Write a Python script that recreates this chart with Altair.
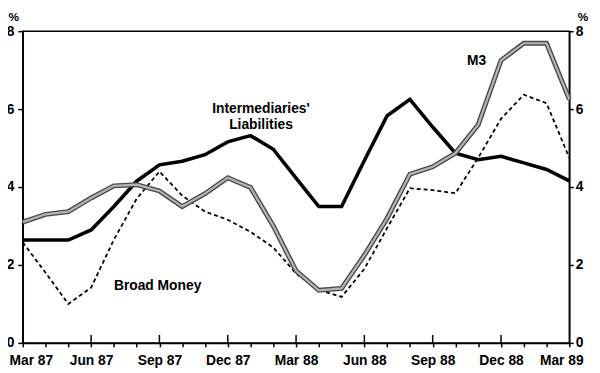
import altair as alt
import pandas as pd

months = ["Mar 87", "Apr 87", "May 87", "Jun 87", "Jul 87", "Aug 87", "Sep 87",
          "Oct 87", "Nov 87", "Dec 87", "Jan 88", "Feb 88", "Mar 88", "Apr 88",
          "May 88", "Jun 88", "Jul 88", "Aug 88", "Sep 88", "Oct 88", "Nov 88",
          "Dec 88", "Jan 89", "Feb 89", "Mar 89"]
m3 = [3.10, 3.30, 3.37, 3.72, 4.03, 4.06, 3.90, 3.50, 3.83, 4.24, 3.99, 3.00,
      1.85, 1.35, 1.40, 2.25, 3.20, 4.33, 4.52, 4.87, 5.60, 7.25, 7.69, 7.69, 6.25]
intermediaries = [2.64, 2.64, 2.64, 2.90, 3.50, 4.15, 4.57, 4.66, 4.83, 5.16,
                  5.32, 4.97, 4.23, 3.50, 3.50, 4.68, 5.83, 6.25, 5.54, 4.87,
                  4.70, 4.79, 4.62, 4.45, 4.16]
broad_money = [2.58, 1.80, 1.00, 1.42, 2.65, 3.70, 4.40, 3.78, 3.37, 3.16, 2.85,
               2.45, 1.78, 1.36, 1.18, 1.90, 2.95, 3.97, 3.92, 3.84, 4.75, 5.75,
               6.37, 6.15, 4.75]
quarter_labels = ["Mar 87", "Jun 87", "Sep 87", "Dec 87", "Mar 88", "Jun 88",
                  "Sep 88", "Dec 88", "Mar 89"]
y_ticks = [0, 2, 4, 6, 8]

# annotation text and anchor (month index, value)
ann_text = ["M3", "Intermediaries'", "Liabilities", "Broad Money"]
ann_t = [19.93, 10.46, 10.46, 5.92]
ann_v = [7.24, 5.99, 5.59, 1.45]

FONT = "Liberation Sans"
H = 316

df = pd.DataFrame({
    "t": list(range(len(months))),
    "month": months,
    "m3": m3,
    "inter": intermediaries,
    "broad": broad_money,
})
ann = pd.DataFrame({"label": ann_text, "t": ann_t, "v": ann_v})
qdf = pd.DataFrame({"t": [3 * i for i in range(1, len(quarter_labels) - 1)]})

label_arr = "[" + ",".join("'%s'" % q for q in quarter_labels) + "]"

xscale = alt.Scale(domain=[0, 24], nice=False, zero=False)
yscale = alt.Scale(domain=[0, 8], nice=False)

x_axis = alt.Axis(values=list(range(25)), tickSize=4, labelPadding=7,
                  labelExpr="datum.value % 3 == 0 ? " + label_arr + "[datum.value / 3] : ''",
                  labelFlush=True, labelFlushOffset=14, labelOverlap=False,
                  labelBound=False, grid=False, title=None)
x_enc = alt.X("t:Q", scale=xscale, title=None, axis=x_axis)

base = alt.Chart(df)

left_axis = alt.Axis(values=y_ticks, tickSize=5, labelPadding=4, grid=False,
                     title="%", titleAngle=0, titleX=-15, titleY=-15,
                     titleFontSize=12,
                     titleAlign="left", titleBaseline="middle")
right_axis = alt.Axis(values=y_ticks, tickSize=4, labelPadding=2, grid=False, orient="right",
                      title="%", titleAngle=0, titleX=8, titleY=-15,
                      titleFontSize=12,
                      titleAlign="left", titleBaseline="middle")

broad = base.mark_line(color="black", strokeWidth=1.8, strokeDash=[4, 3]).encode(
    x=x_enc, y=alt.Y("broad:Q", scale=yscale, axis=left_axis))
inter = base.mark_line(color="black", strokeWidth=3.6).encode(
    x=x_enc, y=alt.Y("inter:Q", scale=yscale, axis=None))
m3_under = base.mark_line(color="#4a4a4a", strokeWidth=5).encode(
    x=x_enc, y=alt.Y("m3:Q", scale=yscale, axis=None))
m3_over = base.mark_line(color="#b5b5b5", strokeWidth=2.2).encode(
    x=x_enc, y=alt.Y("m3:Q", scale=yscale, axis=right_axis))

qticks = alt.Chart(qdf).mark_rule(color="black", strokeWidth=1.5).encode(
    x=x_enc, y=alt.value(H), y2=alt.value(H - 8))

texts = alt.Chart(ann).mark_text(font=FONT, fontSize=14, fontWeight="bold",
                                 color="black").encode(
    x=x_enc, y=alt.Y("v:Q", scale=yscale, axis=None), text="label:N")

chart = alt.layer(broad, inter, m3_under, m3_over, qticks, texts).resolve_scale(
    y="independent"
).properties(
    width=554, height=H,
    autosize=alt.AutoSizeParams(type="none"),
    padding={"left": 15, "top": 21, "right": 23, "bottom": 27},
    background="white",
).configure_view(
    stroke="black", strokeWidth=1.5
).configure_axis(
    labelFont=FONT, labelFontSize=14, labelFontWeight="bold", labelColor="black",
    titleFont=FONT, titleFontSize=14, titleFontWeight="bold", titleColor="black",
    tickColor="black", tickWidth=1.5, domainColor="black", domainWidth=1.5,
)

chart.save("out.html", embed_options={"renderer": "svg", "actions": False})
